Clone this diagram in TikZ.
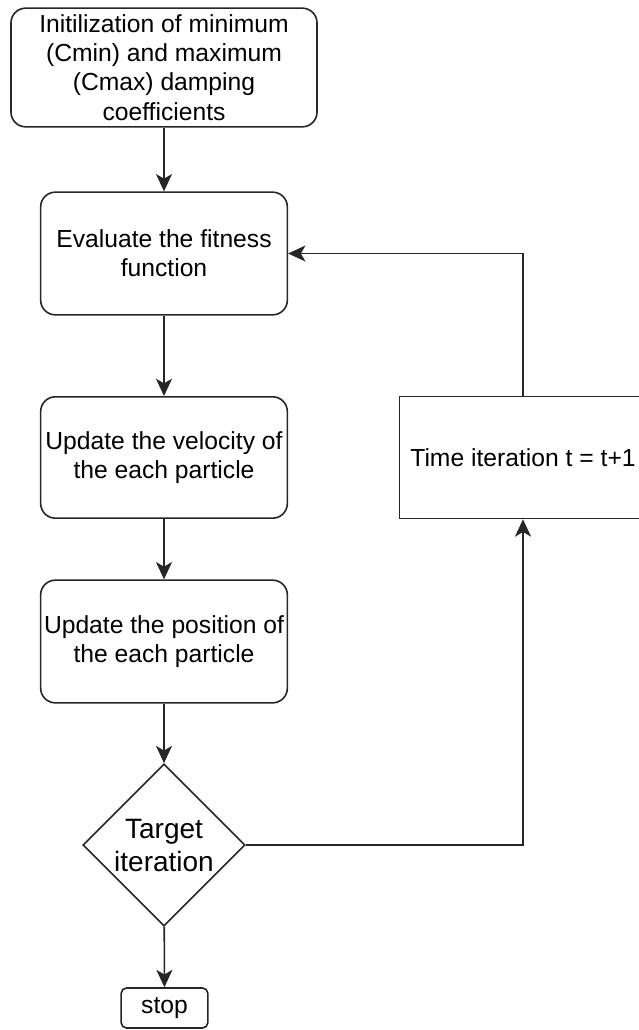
\documentclass[tikz,border=0pt]{standalone}
\usepackage{fontspec}
\setmainfont{Liberation Sans}
\usetikzlibrary{shapes.geometric,arrows.meta}

\begin{document}
\begin{tikzpicture}[x=0.75pt,y=-0.75pt,
  box/.style={draw=black!85,line width=1.2pt,rounded corners=11pt,fill=white,align=center,
    minimum width=185pt,minimum height=92pt,inner sep=2pt,font=\fontsize{18.5}{22}\selectfont},
  arr/.style={draw=black!85,line width=1.2pt,-{Stealth[length=13pt,width=12pt,inset=3.5pt]}}]
\fill[white] (0,0) rectangle (638,1030);
\useasboundingbox (0,0) rectangle (638,1030);

\node [box,minimum width=229.5pt,minimum height=89pt] (init) at (164,67.5)
  {Initilization of minimum\\(Cmin) and maximum\\(Cmax) damping\\coefficients};
\node [box] (fit) at (164,253.5) {Evaluate the fitness\\function};
\node [box,minimum height=91pt] (vel) at (164,457.5) {Update the velocity of\\the each particle};
\node [box] (pos) at (164,641.5) {Update the position of\\the each particle};
\node [diamond,aspect=1,draw=black!85,line width=1.2pt,fill=white,align=center,
  minimum width=121.5pt,minimum height=121.5pt,inner sep=-2pt,
  font=\fontsize{21}{24.75}\selectfont] (tgt) at (164,845) {Target\\iteration};
\node [box,rounded corners=4pt,minimum width=65pt,minimum height=30pt,inner sep=0pt] (stop) at (164.5,1008) {stop};
\node [box,rounded corners=0pt,minimum height=91.5pt] (time) at (523,457.5) {Time iteration t = t+1};

% main flow
\draw [arr] (init) -- (fit);
\draw [arr] (fit) -- (vel);
\draw [arr] (vel) -- (pos);
\draw [arr] (pos) -- (tgt);
\draw [arr] (tgt) -- (stop);
% loop back
\draw [arr] (tgt.east) -| (time.south);
\draw [arr] (time.north) |- (fit.east);
\end{tikzpicture}
\end{document}
